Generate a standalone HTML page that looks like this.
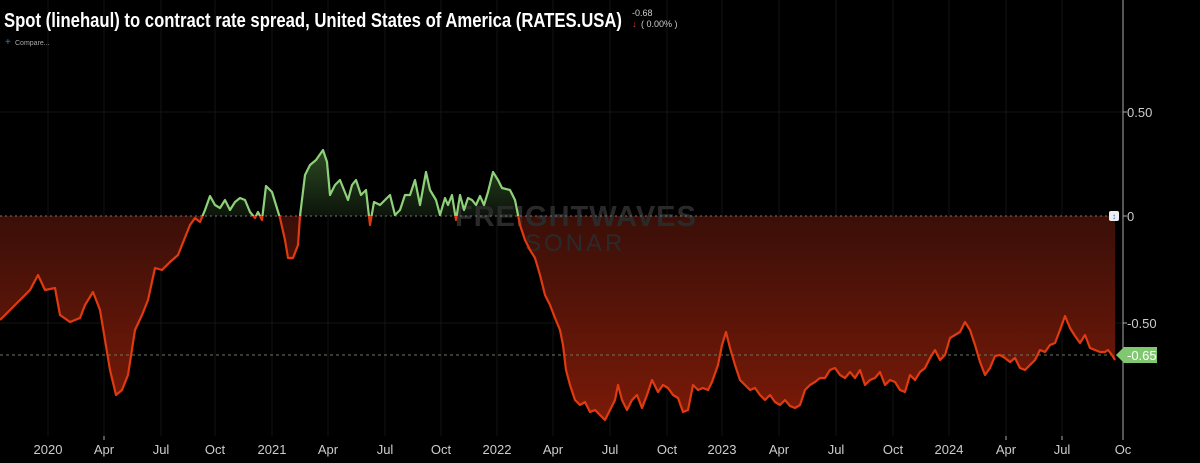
<!DOCTYPE html>
<html><head><style>
html,body{margin:0;padding:0;background:#000;width:1200px;height:463px;overflow:hidden;font-family:"Liberation Sans",sans-serif}
</style></head><body>
<svg width="1200" height="463" viewBox="0 0 1200 463" xmlns="http://www.w3.org/2000/svg" style="position:absolute;left:0;top:0">
<defs>
<linearGradient id="rg" x1="0" y1="216" x2="0" y2="420" gradientUnits="userSpaceOnUse">
<stop offset="0" stop-color="#3a0f08"/><stop offset="1" stop-color="#7a1a08"/></linearGradient>
<linearGradient id="gg" x1="0" y1="150" x2="0" y2="216" gradientUnits="userSpaceOnUse">
<stop offset="0" stop-color="#2c4a22"/><stop offset="1" stop-color="#0c140a"/></linearGradient>
<clipPath id="above"><rect x="0" y="0" width="1123" height="216"/></clipPath>
<clipPath id="below"><rect x="0" y="216" width="1123" height="250"/></clipPath>
</defs>
<g stroke="#141414" stroke-width="1">
<line x1="48" y1="0" x2="48" y2="436"/><line x1="104" y1="0" x2="104" y2="436"/><line x1="161" y1="0" x2="161" y2="436"/><line x1="215" y1="0" x2="215" y2="436"/><line x1="272" y1="0" x2="272" y2="436"/><line x1="328" y1="0" x2="328" y2="436"/><line x1="385" y1="0" x2="385" y2="436"/><line x1="441" y1="0" x2="441" y2="436"/><line x1="497" y1="0" x2="497" y2="436"/><line x1="553" y1="0" x2="553" y2="436"/><line x1="610" y1="0" x2="610" y2="436"/><line x1="667" y1="0" x2="667" y2="436"/><line x1="722" y1="0" x2="722" y2="436"/><line x1="779" y1="0" x2="779" y2="436"/><line x1="836" y1="0" x2="836" y2="436"/><line x1="893" y1="0" x2="893" y2="436"/><line x1="949" y1="0" x2="949" y2="436"/><line x1="1006" y1="0" x2="1006" y2="436"/><line x1="1062" y1="0" x2="1062" y2="436"/>
<line x1="0" y1="112" x2="1123" y2="112"/><line x1="0" y1="323" x2="1123" y2="323"/>
</g>
<g id="series">
<path id="area" d="M0,216 L0,320 10,310 20,300 30,290 38,275 45,290 55,288 60,315 70,322 80,318 85,305 93,292 100,310 105,340 110,370 116,395 122,390 128,375 135,330 142,315 148,300 155,268 162,270 170,262 178,255 184,240 190,225 195,218 200,222 205,210 210,196 215,205 220,208 225,200 230,210 235,202 240,198 245,200 250,212 255,218 258,212 262,220 266,186 272,192 276,205 280,218 285,240 288,258 293,258 298,245 300,216 305,175 310,165 316,160 323,150 327,162 330,195 335,185 340,180 344,190 348,200 352,185 356,180 361,195 366,190 370,225 374,202 380,205 385,200 390,195 395,215 400,210 405,195 410,195 415,180 420,205 426,172 430,190 436,200 440,215 445,198 448,205 452,195 456,220 460,195 464,210 468,198 472,200 476,205 480,196 484,205 488,192 493,172 498,180 502,188 510,190 515,200 520,225 525,240 530,250 535,258 540,275 545,295 550,305 555,318 560,330 563,345 566,370 570,385 575,400 580,405 585,402 590,412 595,410 600,415 605,420 610,410 615,400 618,385 622,400 627,410 632,400 637,395 642,408 647,395 652,380 658,392 663,385 668,388 673,395 678,398 683,412 688,410 693,385 698,390 703,388 708,390 712,382 718,365 722,345 726,332 730,348 735,365 740,380 745,385 750,390 755,388 760,395 765,400 770,395 775,402 780,405 785,400 790,406 795,408 800,405 805,390 810,385 815,382 820,378 825,378 830,370 835,368 840,375 845,378 850,372 855,378 860,370 865,385 870,380 875,378 880,372 885,385 890,380 895,382 900,390 905,392 910,375 915,380 920,372 925,368 930,358 935,350 940,360 945,355 950,338 955,335 960,332 965,322 970,330 975,345 980,362 985,375 990,368 995,356 1000,355 1005,358 1010,362 1015,358 1020,368 1025,370 1030,365 1035,360 1040,350 1045,352 1050,345 1055,343 1060,330 1065,316 1070,328 1075,336 1080,343 1085,335 1090,348 1095,350 1100,352 1105,352 1108,350 1112,355 1115,360 L1115,216 Z"/>
</g>
<use href="#area" fill="url(#rg)" clip-path="url(#below)"/>
<use href="#area" fill="url(#gg)" clip-path="url(#above)"/>
<text x="455" y="226" font-size="29" font-weight="bold" fill="#2a2a2a" letter-spacing="1">FREIGHTWAVES</text>
<text x="525" y="251" font-size="24" fill="#2a2a2a" letter-spacing="3">SONAR</text>
<line x1="0" y1="216" x2="1110" y2="216" stroke="#777" stroke-dasharray="2,3"/>
<line x1="0" y1="355" x2="1118" y2="355" stroke="#6a7a5a" stroke-dasharray="3,3"/>
<polyline id="ln" fill="none" stroke-width="2.2" stroke-linejoin="round" points="0,320 10,310 20,300 30,290 38,275 45,290 55,288 60,315 70,322 80,318 85,305 93,292 100,310 105,340 110,370 116,395 122,390 128,375 135,330 142,315 148,300 155,268 162,270 170,262 178,255 184,240 190,225 195,218 200,222 205,210 210,196 215,205 220,208 225,200 230,210 235,202 240,198 245,200 250,212 255,218 258,212 262,220 266,186 272,192 276,205 280,218 285,240 288,258 293,258 298,245 300,216 305,175 310,165 316,160 323,150 327,162 330,195 335,185 340,180 344,190 348,200 352,185 356,180 361,195 366,190 370,225 374,202 380,205 385,200 390,195 395,215 400,210 405,195 410,195 415,180 420,205 426,172 430,190 436,200 440,215 445,198 448,205 452,195 456,220 460,195 464,210 468,198 472,200 476,205 480,196 484,205 488,192 493,172 498,180 502,188 510,190 515,200 520,225 525,240 530,250 535,258 540,275 545,295 550,305 555,318 560,330 563,345 566,370 570,385 575,400 580,405 585,402 590,412 595,410 600,415 605,420 610,410 615,400 618,385 622,400 627,410 632,400 637,395 642,408 647,395 652,380 658,392 663,385 668,388 673,395 678,398 683,412 688,410 693,385 698,390 703,388 708,390 712,382 718,365 722,345 726,332 730,348 735,365 740,380 745,385 750,390 755,388 760,395 765,400 770,395 775,402 780,405 785,400 790,406 795,408 800,405 805,390 810,385 815,382 820,378 825,378 830,370 835,368 840,375 845,378 850,372 855,378 860,370 865,385 870,380 875,378 880,372 885,385 890,380 895,382 900,390 905,392 910,375 915,380 920,372 925,368 930,358 935,350 940,360 945,355 950,338 955,335 960,332 965,322 970,330 975,345 980,362 985,375 990,368 995,356 1000,355 1005,358 1010,362 1015,358 1020,368 1025,370 1030,365 1035,360 1040,350 1045,352 1050,345 1055,343 1060,330 1065,316 1070,328 1075,336 1080,343 1085,335 1090,348 1095,350 1100,352 1105,352 1108,350 1112,355 1115,360"/>
<use href="#ln" stroke="#e03a10" clip-path="url(#below)"/>
<use href="#ln" stroke="#8fd07a" clip-path="url(#above)"/>
<line x1="1123" y1="0" x2="1123" y2="437" stroke="#aaa"/>
<g stroke="#aaa"><line x1="1123" y1="112" x2="1127" y2="112"/><line x1="1123" y1="216" x2="1127" y2="216"/><line x1="1123" y1="323" x2="1127" y2="323"/>
<line x1="104" y1="436" x2="104" y2="440"/><line x1="1062" y1="436" x2="1062" y2="440"/><line x1="1006" y1="436" x2="1006" y2="440"/><line x1="1123" y1="436" x2="1123" y2="440"/></g>
<rect x="1109" y="211" width="10" height="10" rx="2" fill="#eee"/>
<text x="1114" y="219" font-size="8" fill="#3366cc" text-anchor="middle">↕</text>
<g fill="#ccc" font-size="13">
<text x="1127" y="117">0.50</text><text x="1127" y="221">0</text><text x="1127" y="328">-0.50</text>
</g>
<path d="M1116,355 L1124,347 L1157,347 L1157,363 L1124,363 Z" fill="#80c870"/>
<text x="1127" y="360" font-size="13" fill="#fff">-0.65</text>
<g fill="#ccc" font-size="13" text-anchor="middle">
<text x="48" y="454">2020</text><text x="104" y="454">Apr</text><text x="161" y="454">Jul</text><text x="215" y="454">Oct</text><text x="272" y="454">2021</text><text x="328" y="454">Apr</text><text x="385" y="454">Jul</text><text x="441" y="454">Oct</text><text x="497" y="454">2022</text><text x="553" y="454">Apr</text><text x="610" y="454">Jul</text><text x="667" y="454">Oct</text><text x="722" y="454">2023</text><text x="779" y="454">Apr</text><text x="836" y="454">Jul</text><text x="893" y="454">Oct</text><text x="949" y="454">2024</text><text x="1006" y="454">Apr</text><text x="1062" y="454">Jul</text><text x="1123" y="454">Oc</text>
</g>
<text x="4" y="27" font-size="20" font-weight="bold" fill="#fff" textLength="618" lengthAdjust="spacingAndGlyphs">Spot (linehaul) to contract rate spread, United States of America (RATES.USA)</text>
<text x="632" y="16" font-size="9" fill="#ccc">-0.68</text>
<text x="632" y="27" font-size="9" fill="#e03a3a">↓</text>
<text x="641" y="27" font-size="9" fill="#ccc">( 0.00% )</text>
<text x="5" y="45" font-size="10" fill="#3a7ad0">+</text>
<text x="15" y="45" font-size="7" fill="#aaa">Compare...</text>
</svg>
</body></html>
